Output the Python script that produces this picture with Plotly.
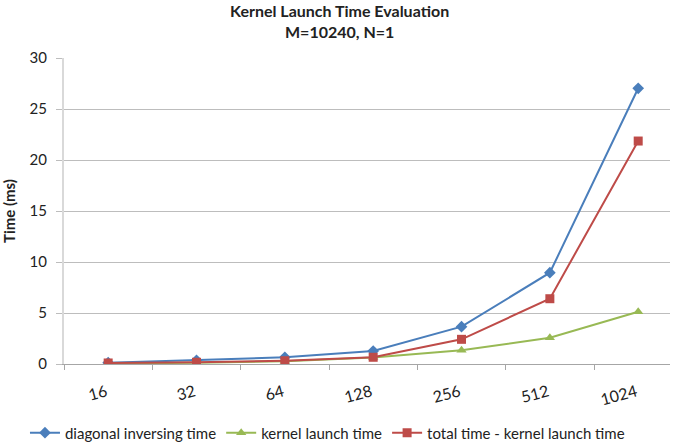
import plotly.graph_objects as go

categories = ["16", "32", "64", "128", "256", "512", "1024"]
diag_time = [0.13, 0.36, 0.66, 1.27, 3.66, 8.95, 27.03]
kernel_launch = [0.05, 0.12, 0.28, 0.64, 1.34, 2.58, 5.13]
total_minus_kernel = [0.10, 0.17, 0.32, 0.66, 2.42, 6.40, 21.86]
yticks = [0, 5, 10, 15, 20, 25, 30]
title_lines = ["Kernel Launch Time Evaluation", "M=10240, N=1"]

FONT = "Lato, Open Sans, sans-serif"

fig = go.Figure()
fig.add_trace(go.Scatter(
    x=categories, y=diag_time, name="diagonal inversing time",
    mode="lines+markers", line=dict(color="#4a7ebb", width=2),
    marker=dict(symbol="diamond", size=9, color="#4a7ebb")))
fig.add_trace(go.Scatter(
    x=categories, y=kernel_launch, name="kernel launch time",
    mode="lines+markers", line=dict(color="#98b954", width=2),
    marker=dict(symbol="triangle-up", size=9, color="#98b954")))
fig.add_trace(go.Scatter(
    x=categories, y=total_minus_kernel, name="total time - kernel launch time",
    mode="lines+markers", line=dict(color="#be4b48", width=2),
    marker=dict(symbol="square", size=9, color="#be4b48")))

for txt, ypos in zip(title_lines, [1.155, 1.088]):
    fig.add_annotation(text="<b>" + txt + "</b>", xref="paper", yref="paper",
                       x=0.455, y=ypos, xanchor="center", yanchor="middle",
                       showarrow=False,
                       font=dict(family=FONT, size=16, color="#222222"))

fig.update_layout(
    width=675, height=444,
    margin=dict(l=64, r=5, t=58, b=80, autoexpand=False),
    paper_bgcolor="white", plot_bgcolor="white",
    font=dict(family=FONT, size=13, color="#222222"),
    showlegend=True,
    legend=dict(orientation="h", xref="container", yref="container",
                x=0.037, xanchor="left", y=0.025, yanchor="middle",
                font=dict(family=FONT, size=15, color="#222222"),
                itemwidth=30, tracegroupgap=0),
    xaxis=dict(type="category", range=[-0.5, 6.36], automargin=False,
               showgrid=False, showline=True, linecolor="#a6a6a6", linewidth=1,
               ticks="outside", ticklen=5, tickcolor="#a6a6a6", tickson="boundaries",
               tickangle=-15, ticklabelstandoff=12, ticklabelshift=-2,
               tickfont=dict(family=FONT, size=16, color="#222222")),
    yaxis=dict(range=[0, 30], tickvals=yticks, automargin=True,
               showgrid=True, gridcolor="#bdbdbd", gridwidth=1,
               showline=True, linecolor="#d9d9d9", linewidth=2,
               ticks="outside", ticklen=6, tickcolor="#bdbdbd",
               ticklabelstandoff=6,
               zeroline=False,
               title=dict(text="<b>Time (ms)</b>", standoff=10,
                          font=dict(family=FONT, size=15, color="#222222")),
               tickfont=dict(family=FONT, size=15, color="#222222")),
)

fig.write_html("out.html", config={"displayModeBar": False},
               post_script="document.body.style.margin='0';document.body.style.overflow='hidden';")
